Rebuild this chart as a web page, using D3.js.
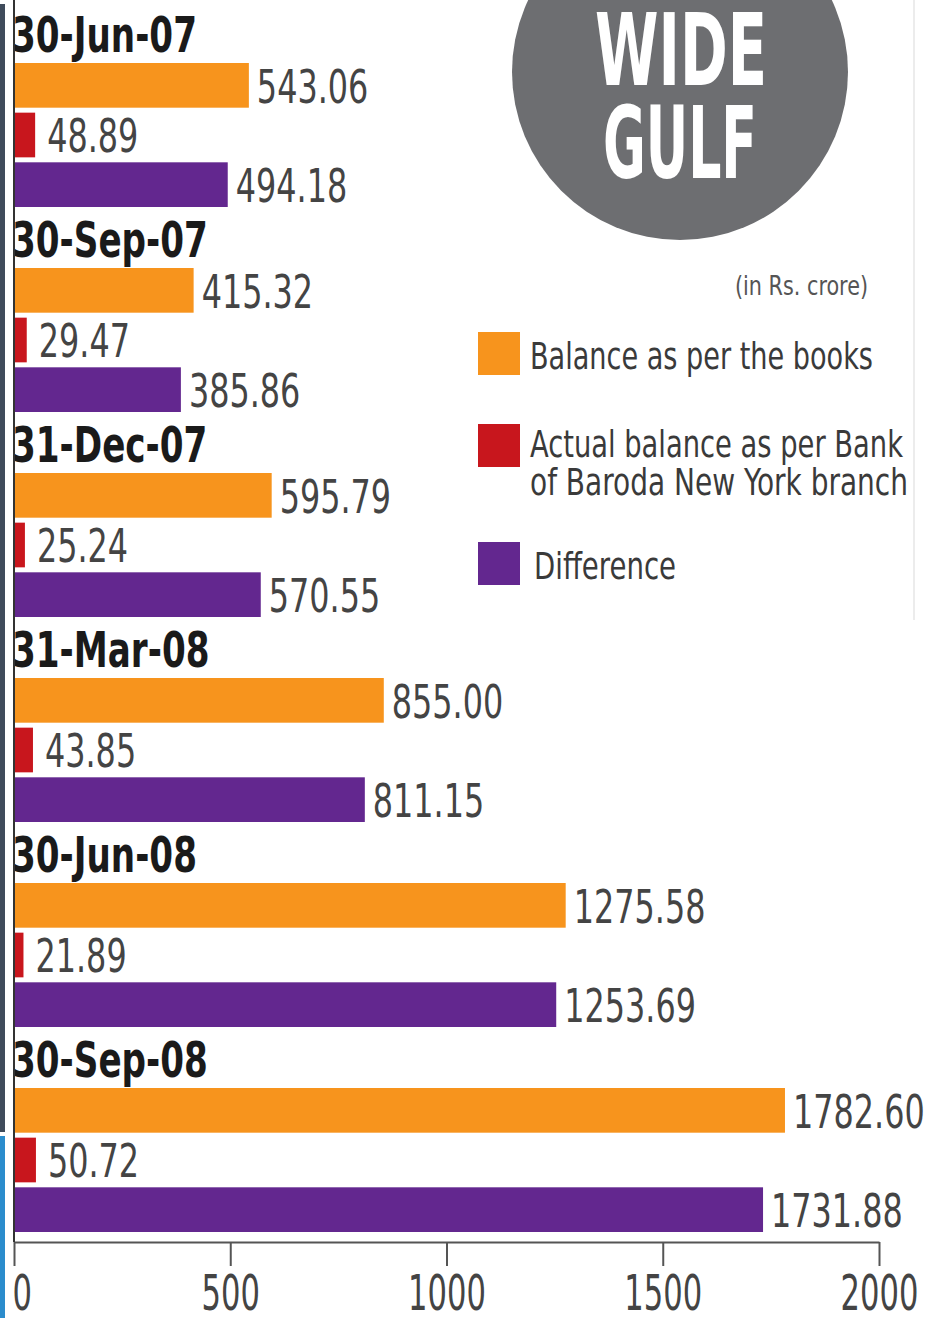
<!DOCTYPE html>
<html>
<head>
<meta charset="utf-8">
<script src="https://cdn.jsdelivr.net/npm/d3@7"></script>
<style>
  body { margin: 0; background: #fff; }
  svg { display: block; }
  text { font-family: "DejaVu Sans Condensed", "Liberation Sans Narrow", "Liberation Sans", sans-serif; }
</style>
</head>
<body>
<div id="chart"></div>
<script>
// quarter-end dates
var dates = ["30-Jun-07", "30-Sep-07", "31-Dec-07", "31-Mar-08", "30-Jun-08", "30-Sep-08"];
// in Rs. crore
var books = [543.06, 415.32, 595.79, 855.00, 1275.58, 1782.60];
var actual = [48.89, 29.47, 25.24, 43.85, 21.89, 50.72];
var difference = [494.18, 385.86, 570.55, 811.15, 1253.69, 1731.88];
var seriesNames = ["Balance as per the books", "Actual balance as per Bank of Baroda New York branch", "Difference"];
var ticks = [0, 500, 1000, 1500, 2000];

//squeeze text to look like the condensed newspaper font
function squeeze(sel, k) {
    sel.each(function() {
        var len = this.getComputedTextLength();
        d3.select(this).attr("textLength", len * k).attr("lengthAdjust", "spacingAndGlyphs");
    });
}

function base(){
    var w = 928;
    var h = 1318;
    var colors = ["#f7941d", "#c8161d", "#63278f"];
    var series = [books, actual, difference];

    var svg = d3.select("#chart")
        .append("svg")
        .attr("width", w)
        .attr("height", h);

    //left edge strip from the page
    svg.append("rect").attr("x", 0).attr("y", 4).attr("width", 5).attr("height", 1128).attr("fill", "#3f4b5b");
    svg.append("rect").attr("x", 0).attr("y", 1136).attr("width", 5).attr("height", 182).attr("fill", "#2b8ccc");
    svg.append("line").attr("x1", 914).attr("x2", 914).attr("y1", 0).attr("y2", 620)
        .attr("stroke", "#ececec").attr("stroke-width", 2);

    //scales
    var xScale = d3.scaleLinear()
        .domain([0, 2000])
        .range([14, 879]);

    var yScale = d3.scaleBand()
        .domain(dates)
        .range([10, 1240]);

    var inner = d3.scaleBand()
        .domain(d3.range(series.length))
        .range([53, 197])
        .paddingInner(0.1);

    //title circle
    svg.append("circle").attr("cx", 680).attr("cy", 72).attr("r", 168).attr("fill", "#6d6e71");
    svg.append("text").attr("x", 681).attr("y", 85)
        .attr("text-anchor", "middle").attr("fill", "#fff")
        .style("font-weight", "bold").style("font-size", "100px")
        .attr("textLength", 172).attr("lengthAdjust", "spacingAndGlyphs")
        .text("WIDE");
    svg.append("text").attr("x", 680).attr("y", 178)
        .attr("text-anchor", "middle").attr("fill", "#fff")
        .style("font-weight", "bold").style("font-size", "100px")
        .attr("textLength", 154).attr("lengthAdjust", "spacingAndGlyphs")
        .text("GULF");

    svg.append("text").attr("x", 868).attr("y", 295)
        .attr("text-anchor", "end").attr("fill", "#555")
        .style("font-size", "26px")
        .attr("textLength", 133).attr("lengthAdjust", "spacingAndGlyphs")
        .text("(in Rs. crore)");

    //legend
    var legendY = [332, 424, 542];
    var legend = svg.selectAll(".legend")
        .data(seriesNames)
        .enter()
        .append("g")
        .attr("transform", function(d, i) { return "translate(478," + legendY[i] + ")"; });
    legend.append("rect")
        .attr("width", 42).attr("height", 43)
        .attr("fill", function(d, i) { return colors[i]; });
    legend.each(function(d, i) {
        var g = d3.select(this);
        var lines = i == 1 ? ["Actual balance as per Bank", "of Baroda New York branch"] : [d];
        var lens = i == 1 ? [373, 378] : (i == 0 ? [343] : [142]);
        lines.forEach(function(l, j) {
            g.append("text")
                .attr("x", i == 2 ? 56 : 52).attr("y", (i == 1 ? 33 : 37) + j * 38)
                .attr("fill", "#3a3a3a")
                .style("font-size", "38px")
                .attr("textLength", lens[j]).attr("lengthAdjust", "spacingAndGlyphs")
                .text(l);
        });
    });

    //groups
    var groups = svg.selectAll(".group")
        .data(dates)
        .enter()
        .append("g")
        .attr("transform", function(d) { return "translate(0," + yScale(d) + ")"; });

    groups.append("text")
        .attr("x", 12).attr("y", 42)
        .attr("fill", "#1a1a1a")
        .style("font-weight", "bold").style("font-size", "50px")
        .text(function(d) { return d; })
        .call(squeeze, 0.76);

    series.forEach(function(vals, s) {
        groups.append("rect")
            .attr("x", xScale(0))
            .attr("y", inner(s))
            .attr("width", function(d, i) { return xScale(vals[i]) - xScale(0); })
            .attr("height", inner.bandwidth())
            .attr("fill", colors[s]);

        groups.append("text")
            .attr("x", function(d, i) { return xScale(vals[i]) + (s == 1 ? 12 : 8); })
            .attr("y", inner(s) + inner.bandwidth() / 2)
            .attr("dy", "0.38em")
            .attr("fill", "#444")
            .style("font-size", "46px")
            .text(function(d, i) { return vals[i].toFixed(2); })
            .call(squeeze, 0.77);
    });

    //x axis
    var axis = svg.append("g")
        .attr("transform", "translate(0,1242)")
        .call(d3.axisBottom(xScale).tickValues(ticks).tickFormat(d3.format("d"))
            .tickSize(24).tickSizeOuter(0).tickPadding(8));
    axis.select(".domain").attr("stroke", "#555").attr("stroke-width", 2);
    axis.selectAll(".tick line").attr("stroke", "#555").attr("stroke-width", 2);
    axis.selectAll(".tick text")
        .attr("fill", "#444")
        .style("font-size", "50px")
        .style("font-family", "'DejaVu Sans Condensed', sans-serif")
        .attr("text-anchor", function(d) { return d == 0 ? "start" : "middle"; })
        .attr("dx", function(d) { return d == 0 ? -2 : 0; })
        .call(squeeze, 0.68);

    //vertical axis line
    svg.append("line")
        .attr("x1", xScale(0)).attr("x2", xScale(0))
        .attr("y1", 0).attr("y2", 1242)
        .attr("stroke", "#333").attr("stroke-width", 2);
}

window.onload = base;
</script>
</body>
</html>
